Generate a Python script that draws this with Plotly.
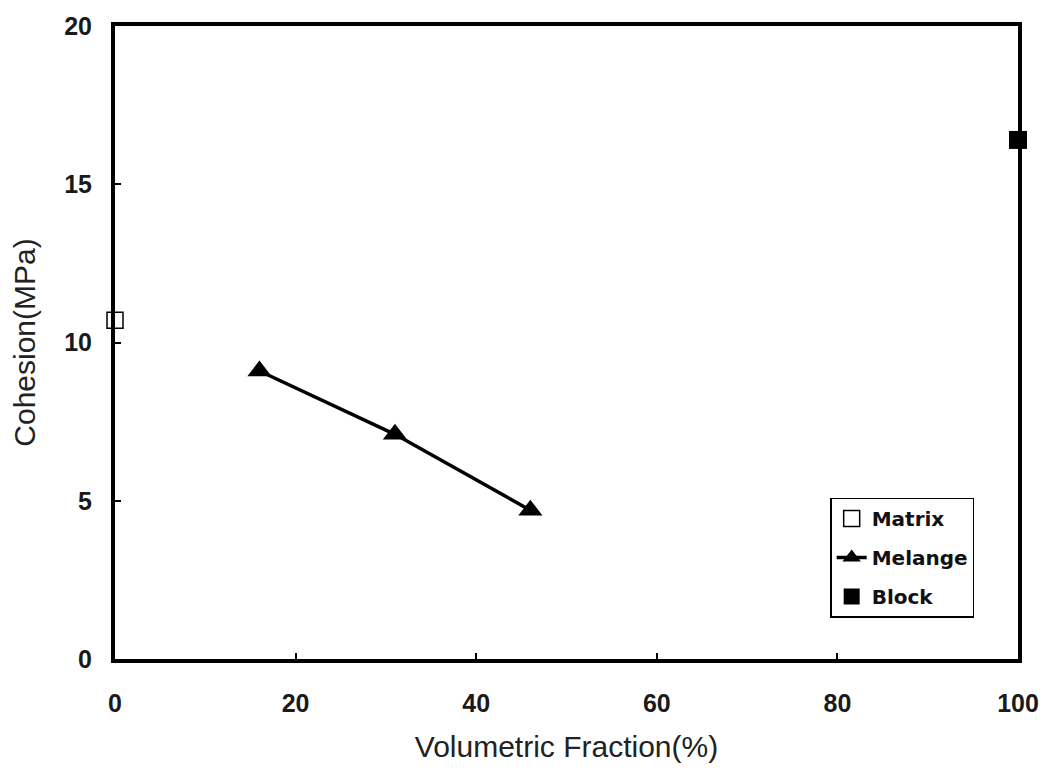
import plotly.graph_objects as go

# Cohesion vs. volumetric block fraction
matrix_x = [0]
matrix_y = [10.7]

melange_x = [16, 31, 46]
melange_y = [9.1, 7.1, 4.7]

block_x = [100]
block_y = [16.4]

x_ticks = [0, 20, 40, 60, 80, 100]
y_ticks = [0, 5, 10, 15, 20]

font_family = "Liberation Sans, Arial, sans-serif"
legend_family = "DejaVu Sans, Liberation Sans, sans-serif"

fig = go.Figure()

fig.add_trace(go.Scatter(
    x=matrix_x, y=matrix_y, mode="markers", name="Matrix", legendgroup="a",
    marker=dict(symbol="square-open", size=16, color="black", line=dict(width=1.5)),
    cliponaxis=False,
))
fig.add_trace(go.Scatter(
    x=melange_x, y=melange_y, mode="lines+markers", name="Melange", legendgroup="b",
    line=dict(color="black", width=3.5),
    marker=dict(symbol="triangle-up", size=21, color="black"),
    cliponaxis=False,
))
fig.add_trace(go.Scatter(
    x=block_x, y=block_y, mode="markers", name="Block", legendgroup="c",
    marker=dict(symbol="square", size=18, color="black"),
    cliponaxis=False,
))

axis_common = dict(
    showgrid=False, zeroline=False,
    showline=True, linecolor="black", linewidth=4, mirror=True,
    ticks="inside", ticklen=6, tickwidth=1.5, tickcolor="black",
    tickfont=dict(family=font_family, size=25, color="#1a1a1a", weight="bold"),
)

fig.update_xaxes(
    range=[0, 100], tickvals=x_ticks, ticklabelstandoff=19,
    title=dict(text="Volumetric Fraction(%)", standoff=21,
               font=dict(family=font_family, size=30, color="#222")),
    **axis_common,
)
fig.update_yaxes(
    range=[0, 20], tickvals=y_ticks, ticklabelstandoff=14,
    title=dict(text="Cohesion(MPa)", standoff=21,
               font=dict(family=font_family, size=30, color="#222")),
    **axis_common,
)

fig.update_layout(
    width=1051, height=771,
    margin=dict(l=115, r=33, t=25, b=111),
    paper_bgcolor="white", plot_bgcolor="white",
    showlegend=True,
    legend=dict(
        x=0.792, y=0.255, xanchor="left", yanchor="top",
        bgcolor="white", bordercolor="black", borderwidth=1.5,
        font=dict(family=legend_family, size=20, color="#111", weight="bold"),
        itemwidth=30, traceorder="grouped", tracegroupgap=10,
    ),
)

fig.write_html("out.html")
